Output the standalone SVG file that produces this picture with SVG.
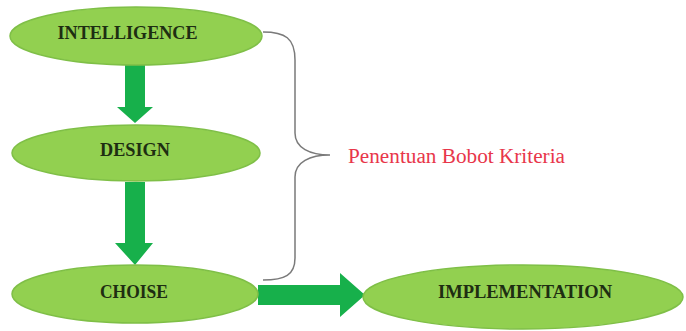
<svg xmlns="http://www.w3.org/2000/svg" width="686" height="331" viewBox="0 0 686 331">
<style>
.node ellipse{fill:#92d050;stroke:#7fbf47;stroke-width:1.5}
.node text{font-family:"Liberation Serif",serif;font-weight:bold;font-size:19px;fill:#1e2e12;text-anchor:middle}
.arrow{fill:#17b04b}
.brace{fill:none;stroke:#7a7a7a;stroke-width:1.5}
.label{font-family:"Liberation Serif",serif;font-size:20px;fill:#e8364a}
</style>
<rect width="686" height="331" fill="#ffffff"/>
<g id="connectors">
<polygon class="arrow" points="125,65 145,65 145,107 153,107 135,123 117,107 125,107"/>
<polygon class="arrow" points="125,182 145,182 145,243 153,243 135,265 115,243 125,243"/>
<polygon class="arrow" points="258,285 340,285 340,273 365,295 340,317 340,305 258,305"/>
<path class="brace" d="M263,32 C285,32 295,38 295,60 L295,133 C295,148 310,155 330,155 C310,155 295,162 295,177 L295,258 C295,275 285,280 263,280"/>
</g>
<g id="intelligence" class="node">
<ellipse cx="136" cy="36" rx="126" ry="29"/>
<text x="127.5" y="39" textLength="140" lengthAdjust="spacingAndGlyphs">INTELLIGENCE</text>
</g>
<g id="design" class="node">
<ellipse cx="136" cy="153" rx="124" ry="28"/>
<text x="135" y="156" textLength="70" lengthAdjust="spacingAndGlyphs">DESIGN</text>
</g>
<g id="choise" class="node">
<ellipse cx="135" cy="294" rx="123" ry="29"/>
<text x="134" y="298" textLength="68" lengthAdjust="spacingAndGlyphs">CHOISE</text>
</g>
<g id="implementation" class="node">
<ellipse cx="523" cy="297" rx="160" ry="32"/>
<text x="525" y="298" textLength="174" lengthAdjust="spacingAndGlyphs">IMPLEMENTATION</text>
</g>
<g id="brace-label">
<text class="label" x="348" y="163" textLength="217" lengthAdjust="spacingAndGlyphs">Penentuan Bobot Kriteria</text>
</g>
</svg>
